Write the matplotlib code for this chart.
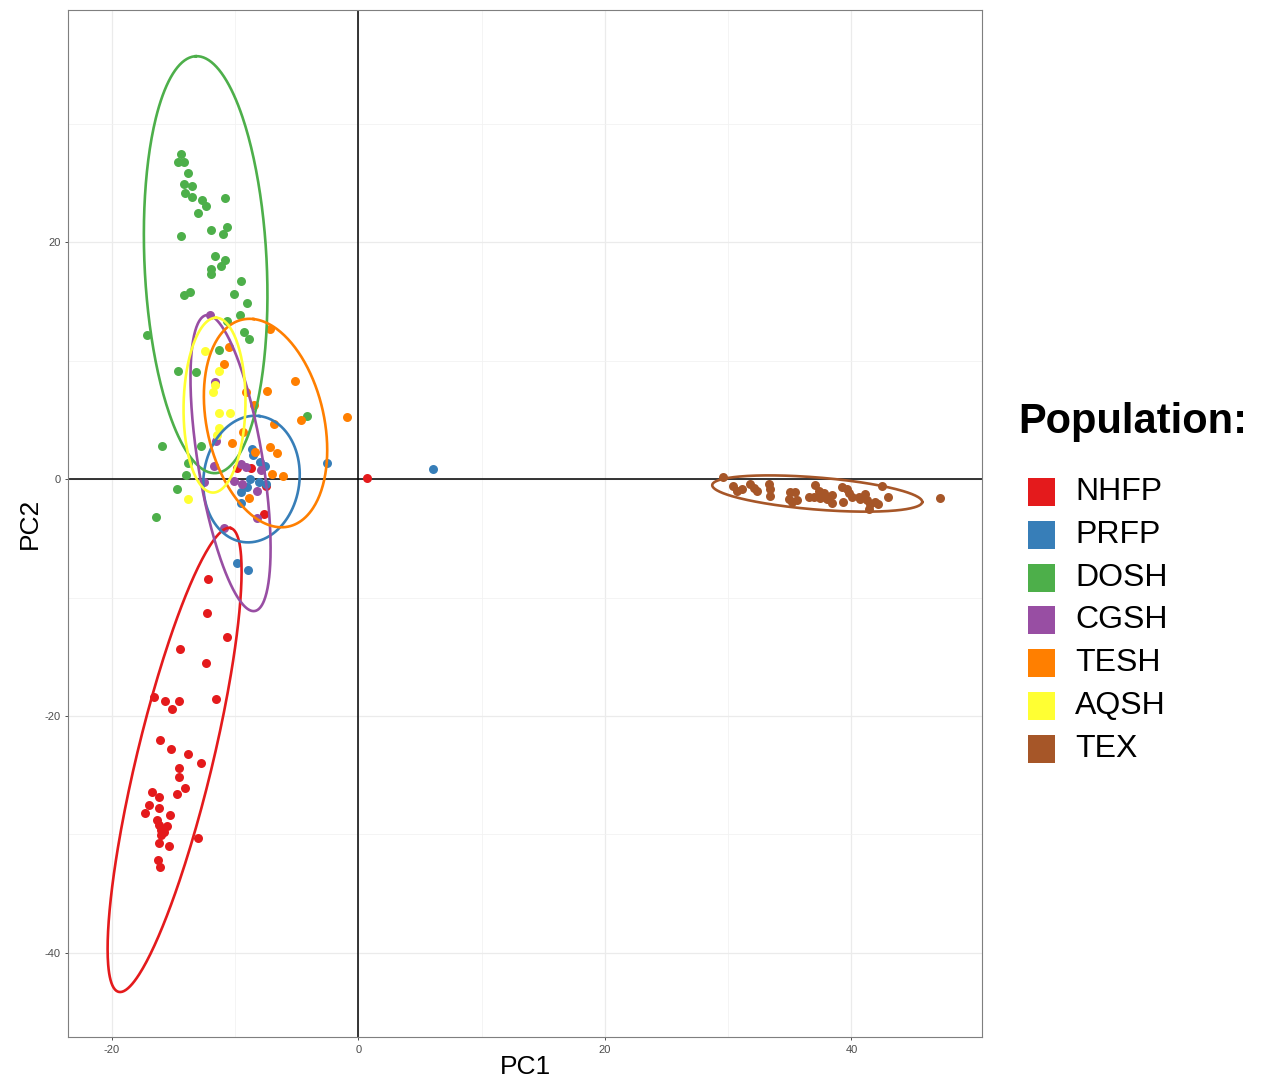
import numpy as np
import matplotlib
matplotlib.use('Agg')
import matplotlib.pyplot as plt
from matplotlib.patches import Rectangle

plt.rcParams['font.family'] = ['Liberation Sans', 'DejaVu Sans']
plt.rcParams['axes.unicode_minus'] = False

populations = ['NHFP', 'PRFP', 'DOSH', 'CGSH', 'TESH', 'AQSH', 'TEX']
colors = ['#E41A1C', '#377EB8', '#4DAF4A', '#984EA3', '#FF7F00', '#FFFF33', '#A65628']

# PCA scores per population (PC1, PC2)
nhfp_pc1 = [-9.84, -8.70, -7.54, -7.70, 0.71, -12.19, -12.33, -10.65, -14.49, -12.41,
            -16.60, -15.71, -14.57, -15.17, -11.60, -16.11, -15.25, -13.81, -12.81, -14.57,
            -14.57, -14.11, -14.76, -16.73, -16.20, -17.01, -16.20, -17.36, -15.30, -16.33,
            -16.20, -15.52, -16.06, -15.79, -16.06, -16.20, -15.39, -13.03, -16.28, -16.14]
nhfp_pc2 = [0.90, 0.90, -0.55, -2.97, 0.06, -8.46, -11.28, -13.31, -14.37, -15.55,
            -18.42, -18.72, -18.76, -19.43, -18.59, -22.03, -22.78, -23.23, -23.99, -24.36,
            -25.12, -26.05, -26.61, -26.39, -26.86, -27.51, -27.74, -28.21, -28.35, -28.78,
            -29.20, -29.26, -29.62, -29.76, -30.04, -30.74, -30.94, -30.32, -32.15, -32.77]

prfp_pc1 = [-8.66, -8.54, -7.95, -7.60, -8.80, -9.08, -9.57, -8.11, -7.54, -9.57,
            -2.54, -9.84, -8.98, 6.08]
prfp_pc2 = [2.53, 2.03, 1.46, 1.10, -0.03, -0.70, -1.07, -0.23, -0.41, -2.05,
            1.32, -7.06, -7.68, 0.84]

dosh_pc1 = [-14.38, -14.62, -14.17, -13.81, -14.17, -13.49, -14.11, -13.49, -12.68, -12.41,
            -10.87, -13.03, -14.38, -12.00, -10.65, -11.01, -11.65, -10.84, -11.19, -12.00,
            -11.95, -9.51, -14.17, -13.63, -10.11, -9.08, -9.65, -10.65, -9.30, -8.90,
            -17.14, -11.33, -14.66, -13.16, -4.16, -15.98, -12.81, -13.84, -14.03, -14.76,
            -16.46]
dosh_pc2 = [27.43, 26.78, 26.78, 25.80, 24.95, 24.73, 24.11, 23.82, 23.60, 23.04,
            23.69, 22.47, 20.53, 21.01, 21.24, 20.65, 18.82, 18.48, 17.97, 17.70,
            17.30, 16.71, 15.50, 15.78, 15.61, 14.83, 13.81, 13.36, 12.43, 11.79,
            12.15, 10.89, 9.14, 9.00, 5.32, 2.81, 2.78, 1.32, 0.34, -0.87,
            -3.21]

cgsh_pc1 = [-12.08, -11.68, -11.56, -11.74, -9.51, -9.12, -7.87, -12.55, -10.11, -9.43,
            -8.23, -8.27, -10.95]
cgsh_pc2 = [13.84, 8.21, 3.25, 1.07, 1.27, 1.04, 0.73, -0.23, -0.13, -0.42,
            -1.03, -3.29, -4.14]

tesh_pc1 = [-7.14, -10.52, -10.92, -5.17, -9.16, -7.46, -8.49, -4.70, -0.97, -6.89,
            -10.24, -9.35, -8.43, -7.14, -6.65, -7.00, -6.12, -8.88]
tesh_pc2 = [12.63, 11.11, 9.70, 8.27, 7.37, 7.43, 6.24, 5.02, 5.21, 4.62,
            3.01, 4.01, 2.30, 2.73, 2.17, 0.41, 0.30, -1.56]

aqsh_pc1 = [-12.47, -11.31, -11.78, -11.64, -11.31, -10.46, -11.31, -11.49, -13.84]
aqsh_pc2 = [10.80, 9.14, 7.38, 7.93, 5.54, 5.59, 4.35, 3.76, -1.71]

tex_pc1 = [29.58, 30.41, 30.74, 31.10, 31.75, 32.08, 32.36, 33.29, 33.41, 33.41,
           35.04, 35.44, 34.91, 35.20, 35.60, 36.54, 36.94, 37.06, 37.35, 37.47,
           37.87, 37.75, 38.00, 38.42, 38.42, 39.23, 39.64, 39.77, 39.36, 40.04,
           40.58, 40.71, 41.12, 41.26, 41.39, 41.52, 41.93, 42.20, 42.47, 43.01,
           47.20]
tex_pc2 = [0.19, -0.55, -1.01, -0.84, -0.42, -0.76, -0.97, -0.38, -0.84, -1.43,
           -1.10, -1.10, -1.65, -1.90, -1.77, -1.48, -1.48, -0.46, -1.01, -1.60,
           -1.48, -1.18, -1.69, -1.35, -2.03, -0.68, -0.84, -1.14, -1.94, -1.49,
           -1.49, -1.69, -1.27, -1.77, -2.53, -2.07, -1.92, -2.11, -0.55, -1.48,
           -1.63]

scores_pc1 = [nhfp_pc1, prfp_pc1, dosh_pc1, cgsh_pc1, tesh_pc1, aqsh_pc1, tex_pc1]
scores_pc2 = [nhfp_pc2, prfp_pc2, dosh_pc2, cgsh_pc2, tesh_pc2, aqsh_pc2, tex_pc2]

# 95% ellipses: centre and two conjugate semi-axis vectors (PC1, PC2 units)
ell_centre = [(-14.92, -23.71), (-8.68, 0.00), (-12.40, 18.10), (-10.38, 1.35),
              (-7.54, 4.73), (-11.68, 6.24), (37.23, -1.22)]
ell_axis_a = [(4.54, 19.58), (0.65, 5.32), (-0.80, 17.60), (-1.78, 12.49),
              (-0.97, 8.78), (0.12, 7.38), (8.52, -0.72)]
ell_axis_b = [(2.99, -0.75), (3.86, -0.51), (4.95, 0.25), (2.72, -0.42),
              (4.91, -0.59), (2.51, 0.00), (-0.105, -1.35)]

W, H = 1261, 1079
fig = plt.figure(figsize=(W / 100, H / 100), dpi=100)
ax = fig.add_axes([68 / W, 1 - 1037 / H, (982 - 68) / W, (1037 - 10) / H])

ax.axhline(0, color='black', lw=1.1, zorder=2)
ax.axvline(0, color='black', lw=1.1, zorder=2)

for i in range(len(populations)):
    ax.scatter(scores_pc1[i], scores_pc2[i], s=42, color=colors[i], linewidths=0, zorder=3)

t = np.linspace(0, 2 * np.pi, 300)
for i in range(len(populations)):
    cx, cy = ell_centre[i]
    a = ell_axis_a[i]
    b = ell_axis_b[i]
    ex = cx + a[0] * np.cos(t) + b[0] * np.sin(t)
    ey = cy + a[1] * np.cos(t) + b[1] * np.sin(t)
    ax.plot(ex, ey, color=colors[i], lw=1.9, zorder=4)

ax.set_xlim(-23.57, 50.6)
ax.set_ylim(-47.1, 39.6)
ax.set_xticks([-20, 0, 20, 40])
ax.set_yticks([-40, -20, 0, 20])
ax.set_xticks([-10, 10, 30], minor=True)
ax.set_yticks([-30, -10, 10, 30], minor=True)
ax.grid(which='major', color='#EBEBEB', lw=0.9)
ax.grid(which='minor', color='#F2F2F2', lw=0.6)
ax.set_axisbelow(True)
ax.tick_params(which='major', length=2.5, width=0.6, color='#333333',
               labelsize=8, labelcolor='#4D4D4D', pad=3)
ax.tick_params(which='minor', length=0)
for sp in ax.spines.values():
    sp.set_color('#7F7F7F')
    sp.set_linewidth(0.8)

ax.set_xlabel('PC1', fontsize=19, labelpad=0)
ax.set_ylabel('PC2', fontsize=19, labelpad=2)

# legend drawn in figure pixels
fig.text(1018 / W, 1 - 422 / H, 'Population:', fontsize=30, fontweight='bold',
         ha='left', va='center')
for i, name in enumerate(populations):
    yc = 492 + 42.8 * i
    fig.add_artist(Rectangle((1028 / W, 1 - (yc + 14) / H), 27 / W, 28 / H,
                             transform=fig.transFigure, facecolor=colors[i],
                             edgecolor='none'))
    fig.text(1075 / W, 1 - yc / H, name, fontsize=23, ha='left', va='center')

fig.savefig('out.png', dpi=100)
